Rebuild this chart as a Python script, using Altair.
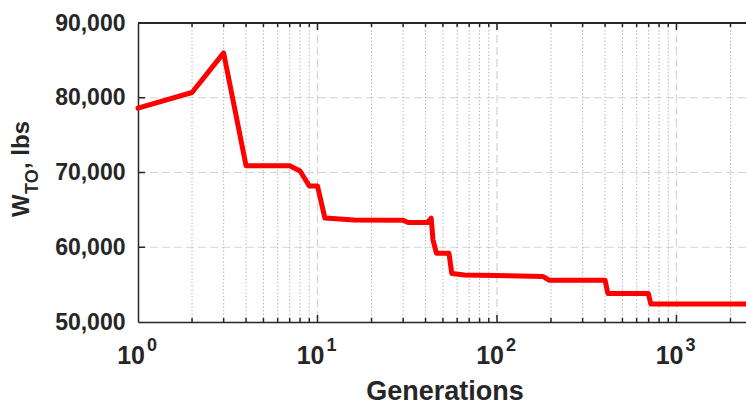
import altair as alt
import pandas as pd

# ---- data ----
generations = [1, 2, 3, 4, 7, 8, 9, 10, 11, 16, 30, 32, 41, 43, 44, 46, 54, 56, 66,
               180, 195, 400, 415, 697, 720, 2440]
weights = [78600, 80700, 86000, 70900, 70900, 70200, 68200, 68200, 63900, 63650,
           63600, 63300, 63300, 63900, 61000, 59200, 59200, 56500, 56300, 56100,
           55600, 55600, 53800, 53800, 52400, 52400]

x_major = [10, 100, 1000]
x_minor = [2, 3, 4, 5, 6, 7, 8, 9, 20, 30, 40, 50, 60, 70, 80, 90,
           200, 300, 400, 500, 600, 700, 800, 900, 2000]
decade_pos = [1, 10, 100, 1000]
decade_exp = ["0", "1", "2", "3"]
y_ticks = [50000, 60000, 70000, 80000, 90000]
y_grid = [60000, 70000, 80000]

W, H = 608, 299
FONT = "Liberation Sans"
TXT = "#262626"

line_df = pd.DataFrame({"g": generations, "w": weights})
major_df = pd.DataFrame({"g": x_major})
minor_df = pd.DataFrame({"g": x_minor})
dec_df = pd.DataFrame({"g": decade_pos, "e": decade_exp, "b": ["10"] * len(decade_pos)})
ygrid_df = pd.DataFrame({"w": y_grid})
ytick_df = pd.DataFrame({"w": y_grid})

xscale = alt.Scale(type="log", domain=[1, 2440])
yscale = alt.Scale(domain=[50000, 90000])

xaxis = alt.Axis(labels=False, ticks=False, grid=False, title=None,
                 domainColor=TXT, domainWidth=1.5)
yaxis = alt.Axis(values=y_ticks, format=",d", labelFont=FONT, labelFontWeight="bold",
                 labelFontSize=23, labelColor=TXT, ticks=False, grid=False,
                 domainColor=TXT, domainWidth=1.5, labelPadding=13, title=None)

X = alt.X("g:Q", scale=xscale, axis=xaxis)
Y = alt.Y("w:Q", scale=yscale, axis=yaxis)

hgrid = alt.Chart(ygrid_df).mark_rule(color="#d4d4d4", strokeWidth=1.2, strokeDash=[8, 4]).encode(
    y=Y, x=alt.value(0), x2=alt.value(W))
vmajor = alt.Chart(major_df).mark_rule(color="#d4d4d4", strokeWidth=1.2, strokeDash=[8, 4]).encode(
    x=X, y=alt.value(0), y2=alt.value(H))
vminor = alt.Chart(minor_df).mark_rule(color="#b8b8b8", strokeWidth=1, strokeDash=[1.5, 2]).encode(
    x=X, y=alt.value(0), y2=alt.value(H))

line = alt.Chart(line_df).mark_line(color="#ff0000", strokeWidth=5, strokeJoin="round",
                                    strokeCap="round").encode(x=X, y=Y)

tick_style = dict(color=TXT, strokeWidth=1.5)
bt_minor = alt.Chart(minor_df).mark_rule(**tick_style).encode(x=X, y=alt.value(H), y2=alt.value(H - 4))
bt_major = alt.Chart(major_df).mark_rule(**tick_style).encode(x=X, y=alt.value(H), y2=alt.value(H - 7))
tt_minor = alt.Chart(minor_df).mark_rule(**tick_style).encode(x=X, y=alt.value(0), y2=alt.value(4))
tt_major = alt.Chart(major_df).mark_rule(**tick_style).encode(x=X, y=alt.value(0), y2=alt.value(7))
lt = alt.Chart(ytick_df).mark_rule(**tick_style).encode(y=Y, x=alt.value(0), x2=alt.value(7))
top_border = alt.Chart(major_df).mark_rule(color=TXT, strokeWidth=1.5).encode(
    x=alt.value(0), x2=alt.value(W), y=alt.value(0))

base10 = alt.Chart(dec_df).mark_text(font=FONT, fontWeight="bold", fontSize=25, color=TXT,
                                     align="right", baseline="alphabetic", dx=7).encode(
    x=X, y=alt.value(341), text="b:N")
expo = alt.Chart(dec_df).mark_text(font=FONT, fontWeight="bold", fontSize=18, color=TXT,
                                   align="left", baseline="alphabetic", dx=9).encode(
    x=X, y=alt.value(328), text="e:N")

title_df = pd.DataFrame({"t": ["Generations"]})
xtitle = alt.Chart(title_df).mark_text(font=FONT, fontWeight="bold", fontSize=27, color=TXT,
                                       align="center", baseline="alphabetic").encode(
    x=alt.value(307), y=alt.value(377), text="t:N")

yt_w = alt.Chart(pd.DataFrame({"t": ["W"]})).mark_text(
    font=FONT, fontWeight="bold", fontSize=24, color=TXT, angle=270,
    align="left", baseline="alphabetic").encode(x=alt.value(-109), y=alt.value(194), text="t:N")
yt_sub = alt.Chart(pd.DataFrame({"t": ["TO"]})).mark_text(
    font=FONT, fontWeight="bold", fontSize=18, color=TXT, angle=270,
    align="left", baseline="alphabetic").encode(x=alt.value(-100), y=alt.value(171), text="t:N")
yt_rest = alt.Chart(pd.DataFrame({"t": [", lbs"]})).mark_text(
    font=FONT, fontWeight="bold", fontSize=24, color=TXT, angle=270,
    align="left", baseline="alphabetic").encode(x=alt.value(-109), y=alt.value(146), text="t:N")

chart = alt.layer(
    hgrid, vmajor, vminor, line,
    bt_minor, bt_major, tt_minor, tt_major, lt, top_border,
    base10, expo, xtitle, yt_w, yt_sub, yt_rest
).properties(
    width=W, height=H,
    autosize=alt.AutoSizeParams(type="none"),
    padding={"left": 138, "top": 23, "right": 0, "bottom": 83},
    background="white",
).configure_view(stroke=None)

chart.save("out.html", embed_options={"renderer": "svg", "actions": False})
